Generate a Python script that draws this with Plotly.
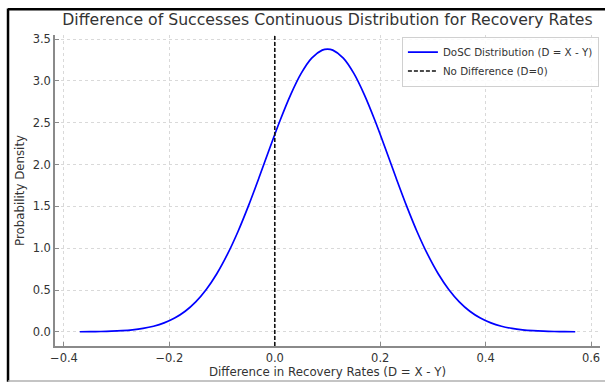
import plotly.graph_objects as go

# Values
d_values = [-0.37, -0.35, -0.33, -0.31, -0.29, -0.27, -0.25, -0.23, -0.21, -0.19,
            -0.17, -0.15, -0.13, -0.11, -0.09, -0.07, -0.05, -0.03, -0.01, 0.01,
            0.03, 0.05, 0.07, 0.09, 0.10, 0.11, 0.13, 0.15, 0.17, 0.19,
            0.21, 0.23, 0.25, 0.27, 0.29, 0.31, 0.33, 0.35, 0.37, 0.39,
            0.41, 0.43, 0.45, 0.47, 0.49, 0.51, 0.53, 0.55, 0.57]
density = [0.0012, 0.0024, 0.0044, 0.0081, 0.0144, 0.0247, 0.0415, 0.0677, 0.107, 0.165,
           0.246, 0.358, 0.506, 0.694, 0.925, 1.197, 1.506, 1.842, 2.189, 2.527,
           2.834, 3.090, 3.273, 3.368, 3.380, 3.368, 3.273, 3.090, 2.834, 2.527,
           2.189, 1.842, 1.506, 1.197, 0.925, 0.694, 0.506, 0.358, 0.246, 0.165,
           0.107, 0.0677, 0.0415, 0.0247, 0.0144, 0.0081, 0.0044, 0.0024, 0.0012]
no_diff_value = 0.0

x_ticks = [-0.4, -0.2, 0.0, 0.2, 0.4, 0.6]
y_ticks = [0.0, 0.5, 1.0, 1.5, 2.0, 2.5, 3.0, 3.5]

FONT = "DejaVu Sans"
TXT = "#333333"
SPINE = "#8a8a8a"

fig = go.Figure()
fig.add_trace(go.Scatter(
    x=d_values, y=density, mode="lines", line=dict(color="#0000ff", width=1.7, shape="spline"),
    name="DoSC Distribution (D = X - Y)"))

fig.add_shape(type="line", xref="x", yref="y domain", x0=no_diff_value, x1=no_diff_value, y0=0, y1=1,
              line=dict(color="#111111", width=1.6, dash="4px,2px"),
              showlegend=True, name="No Difference (D=0)")

# outer frame like the reference image
fig.add_shape(type="line", xref="paper", yref="paper", x0=-0.0862, x1=-0.0862, y0=-0.115, y1=1.085,
              line=dict(color="black", width=2.5), layer="above")
fig.add_shape(type="line", xref="paper", yref="paper", x0=-0.0862, x1=1.02, y0=1.083, y1=1.083,
              line=dict(color="black", width=2.5), layer="above")
fig.add_shape(type="line", xref="paper", yref="paper", x0=-0.0862, x1=1.02, y0=-0.1125, y1=-0.1125,
              line=dict(color="#b0b0b0", width=1.5), layer="above")

fig.update_layout(
    width=605, height=383,
    margin=dict(l=55, r=5, t=35, b=37, autoexpand=False),
    paper_bgcolor="white", plot_bgcolor="white",
    font=dict(family=FONT, color=TXT, size=11),
    title=dict(text="Difference of Successes Continuous Distribution for Recovery Rates",
               x=0.5413, xanchor="center", y=0.948, yanchor="middle",
               font=dict(size=15.7, family=FONT, color="#333333")),
    legend=dict(x=0.998, y=0.995, xanchor="right", yanchor="top",
                bgcolor="rgba(255,255,255,0.85)", bordercolor="#d0d0d0", borderwidth=1,
                font=dict(size=10.3, family=FONT, color=TXT), tracegroupgap=0,
                itemwidth=30),
    showlegend=True,
)
fig.update_xaxes(
    range=[-0.417, 0.617], tickvals=x_ticks, tickformat=".1f",
    showgrid=True, gridcolor="#d9d9d9", griddash="dot", gridwidth=1,
    showline=True, linecolor=SPINE, linewidth=1.5, mirror=False,
    ticks="inside", ticklen=4, tickcolor=SPINE, zeroline=False,
    tickfont=dict(size=11.5, color=TXT),
    title=dict(text="Difference in Recovery Rates (D = X - Y)", font=dict(size=11.8, color=TXT), standoff=3),
)
fig.update_yaxes(
    range=[-0.169, 3.549], tickvals=y_ticks, tickformat=".1f",
    showgrid=True, gridcolor="#d9d9d9", griddash="dot", gridwidth=1,
    showline=True, linecolor=SPINE, linewidth=1.5, mirror=False,
    ticks="inside", ticklen=4, tickcolor=SPINE, zeroline=False,
    tickfont=dict(size=11.5, color=TXT),
    title=dict(text="Probability Density", font=dict(size=11.8, color=TXT), standoff=6),
)

fig.write_html("out.html", config={"displayModeBar": False},
               post_script="document.body.style.margin='0';document.body.style.overflow='hidden';")
